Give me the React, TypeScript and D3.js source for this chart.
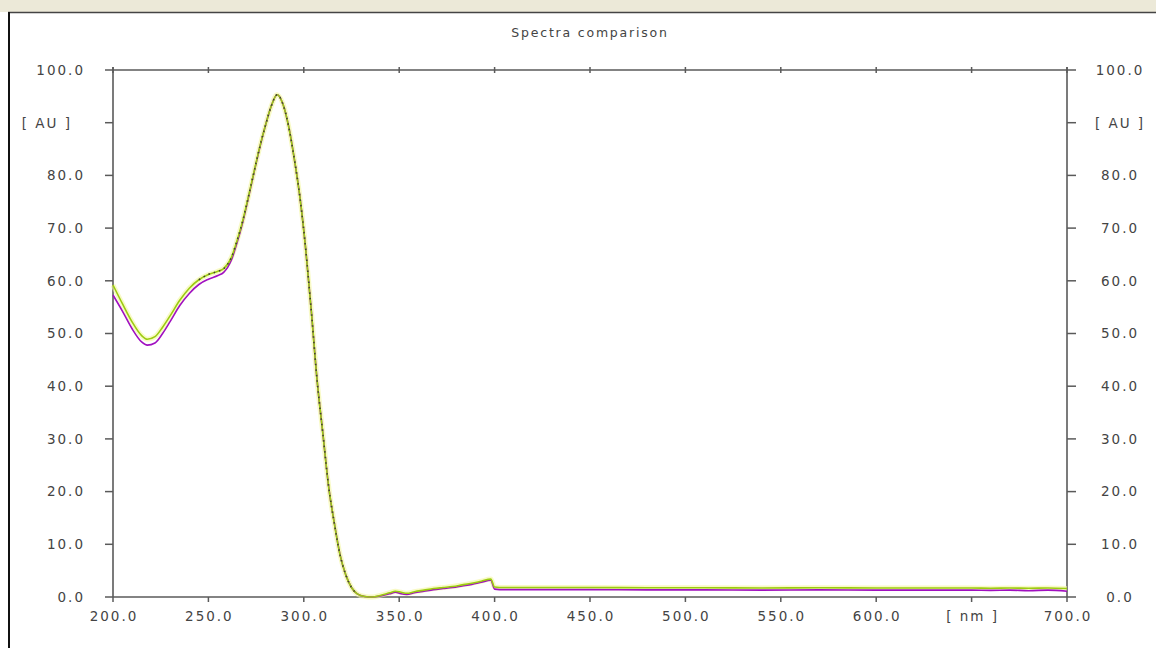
import React from 'react';
import * as d3 from 'd3';

// wavelengths (nm) shared by both spectra
const wavelengths = [200, 205, 210, 215, 218, 222, 226, 230, 235, 240, 245, 250, 255, 258, 262, 265, 268, 271, 274, 277, 280, 283, 286, 289, 292, 295, 298, 301, 304, 307, 310, 313, 316, 319, 322, 325, 328, 332, 336, 340, 345, 348, 351, 354, 358, 363, 368, 373, 378, 383, 388, 393, 398, 400, 405, 420, 450, 480, 510, 540, 570, 600, 630, 650, 660, 670, 680, 690, 700];

const greenSpectrum = [59.2, 55.6, 52.2, 49.6, 48.9, 49.4, 51.2, 53.4, 56.3, 58.6, 60.2, 61.2, 61.8, 62.3, 64.4, 67.6, 71.4, 76.0, 80.8, 85.5, 89.6, 93.2, 95.3, 93.6, 89.4, 83.2, 75.8, 66.0, 54.0, 41.0, 31.0, 21.0, 14.0, 8.0, 4.2, 1.8, 0.6, 0.1, 0.0, 0.3, 0.8, 1.1, 0.9, 0.7, 1.0, 1.3, 1.6, 1.8, 2.0, 2.3, 2.6, 3.0, 3.4, 1.9, 1.8, 1.8, 1.8, 1.75, 1.75, 1.7, 1.75, 1.7, 1.7, 1.7, 1.65, 1.7, 1.65, 1.7, 1.6];

const purpleSpectrum = [57.3, 54.2, 50.9, 48.4, 47.8, 48.2, 50.0, 52.3, 55.3, 57.6, 59.3, 60.3, 61.0, 61.6, 63.9, 67.2, 71.1, 75.8, 80.7, 85.4, 89.6, 93.2, 95.3, 93.6, 89.4, 83.2, 75.8, 66.0, 54.0, 41.0, 31.0, 21.0, 14.0, 8.0, 4.2, 1.8, 0.6, 0.1, 0.0, 0.2, 0.6, 0.9, 0.6, 0.5, 0.8, 1.1, 1.4, 1.6, 1.8, 2.1, 2.4, 2.8, 3.2, 1.5, 1.4, 1.4, 1.4, 1.35, 1.35, 1.3, 1.35, 1.3, 1.3, 1.3, 1.25, 1.3, 1.2, 1.3, 1.1];

const xTicks = [200, 250, 300, 350, 400, 450, 500, 550, 600, 650, 700];
const yTicks = [0, 10, 20, 30, 40, 50, 60, 70, 80, 90, 100];

const W = 1156, H = 648;
const FONT = '"DejaVu Sans", Verdana, sans-serif';

const App = () => {
  const x = d3.scaleLinear().domain([200, 700]).range([113, 1067]);
  const y = d3.scaleLinear().domain([0, 100]).range([597, 70]);
  const [x0, x1] = x.range();
  const [y0, y1] = y.range();

  const pts = (vals: number[]) => wavelengths.map((w, i) => [w, vals[i]] as [number, number]);
  const line = d3.line<[number, number]>()
    .x((d) => x(d[0]))
    .y((d) => y(d[1]))
    .curve(d3.curveMonotoneX);

  // dark sample marks that show along the main band
  const marks = pts(greenSpectrum).filter((d) => d[0] >= 245 && d[0] <= 330);

  const xLabel = (v: number) => (v === 650 ? '[ nm ]' : v.toFixed(1));
  const yLabel = (v: number) => (v === 90 ? '[ AU ]' : v.toFixed(1));
  const axisCol = '#5a5a5a';
  const textCol = '#444';
  const lbl = { fontFamily: FONT, fontSize: 13.5, letterSpacing: 2, fill: textCol };

  return (
    <svg width={W} height={H} style={{ position: 'absolute', left: 0, top: 0, background: '#fff' }}>
      {/* window frame */}
      <rect x={0} y={0} width={W} height={12} fill="#ece9d8" />
      <line x1={8} x2={W} y1={12.5} y2={12.5} stroke="#444" strokeWidth={1.5} />
      <line x1={9} x2={9} y1={12} y2={H} stroke="#111" strokeWidth={2} />

      <text x={590} y={37} textAnchor="middle" fontFamily={FONT} fontSize={12.5}
        letterSpacing={1.8} fill={textCol}>Spectra comparison</text>

      {/* frame of the plot */}
      <g stroke={axisCol} strokeWidth={1.6} fill="none">
        <line x1={x0} x2={x1} y1={y1} y2={y1} />
        <line x1={x0} x2={x1} y1={y0} y2={y0} />
        <line x1={x0} x2={x0} y1={y1 - 3} y2={y0} />
        <line x1={x1} x2={x1} y1={y1 - 3} y2={y0} />
      </g>

      {/* x ticks */}
      {xTicks.map((t) => (
        <g key={'x' + t}>
          <line x1={x(t)} x2={x(t)} y1={y1 - 3} y2={y1 + 3} stroke={axisCol} strokeWidth={1.5} />
          <line x1={x(t)} x2={x(t)} y1={y0} y2={y0 + 5} stroke={axisCol} strokeWidth={1.5} />
          <text x={x(t) + 1} y={621} textAnchor="middle" {...lbl}>{xLabel(t)}</text>
        </g>
      ))}

      {/* y ticks, both sides */}
      {yTicks.map((t) => (
        <g key={'y' + t}>
          <line x1={x0 - 8} x2={x0} y1={y(t)} y2={y(t)} stroke={axisCol} strokeWidth={1.5} />
          <line x1={x1} x2={x1 + 9} y1={y(t)} y2={y(t)} stroke={axisCol} strokeWidth={1.5} />
          <text x={t === 90 ? 72 : 85} y={y(t)} dy="0.36em" textAnchor="end" {...lbl}>{yLabel(t)}</text>
          <text x={1120} y={y(t)} dy="0.36em" textAnchor="middle" {...lbl}>{yLabel(t)}</text>
        </g>
      ))}

      {/* spectra */}
      <path d={line(pts(greenSpectrum)) || ''} fill="none" stroke="#f4f7a0" strokeWidth={5} opacity={0.6} />
      <path d={line(pts(purpleSpectrum)) || ''} fill="none" stroke="#a010c0" strokeWidth={1.6} />
      <path d={line(pts(greenSpectrum)) || ''} fill="none" stroke="#9ccc10" strokeWidth={1.6} />
      <path d={line(marks) || ''} fill="none" stroke="#404030" strokeWidth={1.6} strokeDasharray="1.5 4" />
    </svg>
  );
};

export default App;
